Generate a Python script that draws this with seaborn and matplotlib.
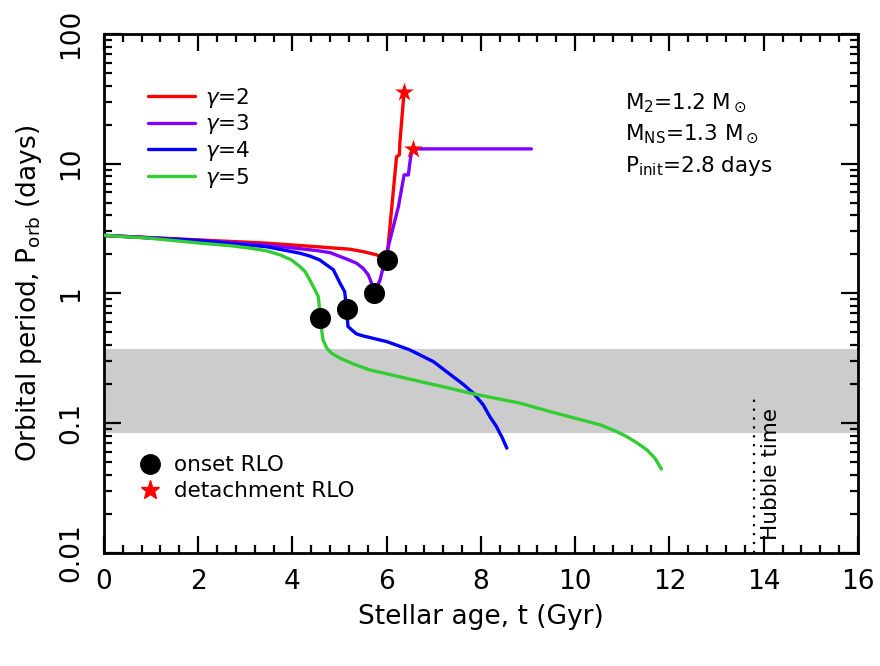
import numpy as np
import pandas as pd
import seaborn as sns
import matplotlib.pyplot as plt
from matplotlib.lines import Line2D
from matplotlib.ticker import FixedLocator, LogLocator, MultipleLocator, NullFormatter

# Orbital period evolution for different magnetic braking index gamma
t_g2 = [0, 2.04, 3.45, 4.51, 5.22, 5.50, 5.79, 6.0, 6.03, 6.21, 6.27, 6.28, 6.37]
p_g2 = [2.8, 2.58, 2.44, 2.29, 2.19, 2.10, 1.98, 1.81, 2.30, 11.3, 11.7, 14.4, 36]

t_g3 = [0, 2.04, 3.45, 4.51, 4.80, 5.15, 5.36, 5.50, 5.61, 5.68, 5.74, 5.86, 6.07, 6.25, 6.37, 6.46, 6.51, 6.55, 9.07]
p_g3 = [2.8, 2.56, 2.36, 2.14, 2.06, 1.84, 1.71, 1.56, 1.39, 1.20, 1.0, 1.27, 2.58, 4.67, 8.19, 8.19, 11.3, 13.0, 13.0]

t_g4 = [0, 2.04, 3.45, 4.16, 4.37, 4.58, 4.87, 5.01, 5.11, 5.15, 5.18, 5.26, 5.36, 5.50, 6.0, 6.49, 6.99,
        7.41, 7.62, 7.84, 8.05, 8.19, 8.33, 8.40, 8.44, 8.55]
p_g4 = [2.8, 2.55, 2.29, 2.04, 1.94, 1.81, 1.52, 1.20, 1.03, 0.755, 0.555, 0.523, 0.487, 0.470, 0.425, 0.367, 0.298,
        0.228, 0.1995, 0.170, 0.138, 0.112, 0.094, 0.0837, 0.0788, 0.0641]

t_g5 = [0, 0.98, 2.04, 2.74, 3.10, 3.45, 3.74, 3.98, 4.16, 4.27, 4.37, 4.48, 4.55, 4.58, 4.62, 4.65, 4.73, 4.83,
        5.01, 5.29, 5.64, 6.0, 6.71, 7.41, 7.84, 8.83, 9.46, 10.53, 10.88, 11.09, 11.30, 11.52, 11.69, 11.83]
p_g5 = [2.8, 2.66, 2.44, 2.32, 2.23, 2.13, 1.98, 1.81, 1.61, 1.47, 1.27, 1.06, 0.945, 0.746, 0.523, 0.438, 0.378, 0.346,
        0.317, 0.286, 0.257, 0.240, 0.209, 0.183, 0.168, 0.1425, 0.1228, 0.0969, 0.0861, 0.0788, 0.0708, 0.0622, 0.0537, 0.0442]

gammas = ['2', '3', '4', '5']
colors = ['#ff0000', '#8000ff', '#0000ff', '#33cc33']

# onset / detachment of Roche-lobe overflow
t_onset = [6.0, 5.74, 5.15, 4.58]
p_onset = [1.81, 1.0, 0.755, 0.644]
t_detach = [6.37, 6.55]
p_detach = [36, 13.0]

# UCXB period window (2 - 9 hr) and Hubble time
band_lo, band_hi = 2 / 24, 9 / 24
t_hubble = 13.8

frames = []
for g, t, p in zip(gammas, [t_g2, t_g3, t_g4, t_g5], [p_g2, p_g3, p_g4, p_g5]):
    frames.append(pd.DataFrame({'t': t, 'P': p, 'gamma': g}))
df = pd.concat(frames, ignore_index=True)

sns.set_style('ticks')
plt.rcParams['font.family'] = ['DejaVu Sans']
plt.rcParams['text.color'] = 'black'
plt.rcParams['axes.labelcolor'] = 'black'
plt.rcParams['xtick.color'] = 'black'
plt.rcParams['ytick.color'] = 'black'

fig = plt.figure(figsize=(8.8, 6.66), dpi=100)
ax = fig.add_axes([0.118, 0.170, 0.857, 0.779])

ax.axhspan(band_lo, band_hi, color='#cccccc', lw=0, zorder=0)

sns.lineplot(data=df, x='t', y='P', hue='gamma', palette=colors, sort=False,
             estimator=None, lw=2.4, legend=False, ax=ax, zorder=3)

ax.scatter(t_onset, p_onset, s=230, color='black', zorder=5, lw=0)
ax.scatter(t_detach, p_detach, s=200, marker='*', color='red', zorder=6, lw=0)

ax.plot([t_hubble, t_hubble], [0.01, 0.155], ls=(0, (1, 3)), color='black', lw=1.6)
ax.text(14.15, 0.0126, 'Hubble time', rotation=90, ha='center', va='bottom', fontsize=15.5)

ax.set_yscale('log')
ax.set_xlim(0, 16)
ax.set_ylim(0.01, 100)

ax.xaxis.set_major_locator(MultipleLocator(2))
ax.xaxis.set_minor_locator(MultipleLocator(0.4))
ax.yaxis.set_major_locator(FixedLocator([0.01, 0.1, 1, 10, 100]))
ax.yaxis.set_minor_locator(LogLocator(base=10, subs=np.arange(2, 10)))
ax.yaxis.set_minor_formatter(NullFormatter())
ax.set_yticklabels(['0.01', '0.1', '1', '10', '100'])

ax.tick_params(which='both', direction='in', top=True, right=True, width=1.6)
ax.tick_params(which='major', length=12, labelsize=19)
ax.tick_params(which='minor', length=6)
ax.tick_params(axis='x', pad=12)
ax.tick_params(axis='y', pad=14)
for lab in ax.get_yticklabels():
    lab.set_rotation(90)
    lab.set_va('center')
for s in ax.spines.values():
    s.set_linewidth(2)
    s.set_color('black')

ax.set_xlabel('Stellar age, t (Gyr)', fontsize=19, labelpad=6)
ax.set_ylabel('Orbital period, P$_{\\rm orb}$ (days)', fontsize=19)
ax.yaxis.set_label_coords(-0.080, 0.5)

# gamma legend
handles = [Line2D([], [], color=c, lw=2.4) for c in colors]
leg1 = ax.legend(handles, ['$\\gamma$=' + g for g in gammas], loc='upper left',
                 bbox_to_anchor=(0.058, 0.900), frameon=False, fontsize=15.5,
                 handlelength=2.2, handletextpad=0.45, labelspacing=0.12,
                 borderpad=0, borderaxespad=0)
ax.add_artist(leg1)

# marker legend
mh = [Line2D([], [], ls='none', marker='o', ms=14, color='black'),
      Line2D([], [], ls='none', marker='*', ms=14, color='red')]
ax.legend(mh, ['onset RLO', 'detachment RLO'], loc='upper left',
          bbox_to_anchor=(0.045, 0.188), frameon=False, fontsize=15.5,
          handlelength=1.1, handletextpad=0.6, labelspacing=0.28,
          borderpad=0, borderaxespad=0)

txt_kw = dict(transform=ax.transAxes, fontsize=15.5, ha='left', va='center')
ax.text(0.691, 0.867, 'M$_2$=1.2 M$_\\odot$', **txt_kw)
ax.text(0.691, 0.807, 'M$_{\\rm NS}$=1.3 M$_\\odot$', **txt_kw)
ax.text(0.691, 0.746, 'P$_{\\rm init}$=2.8 days', **txt_kw)

fig.savefig('out.png', dpi=100)
